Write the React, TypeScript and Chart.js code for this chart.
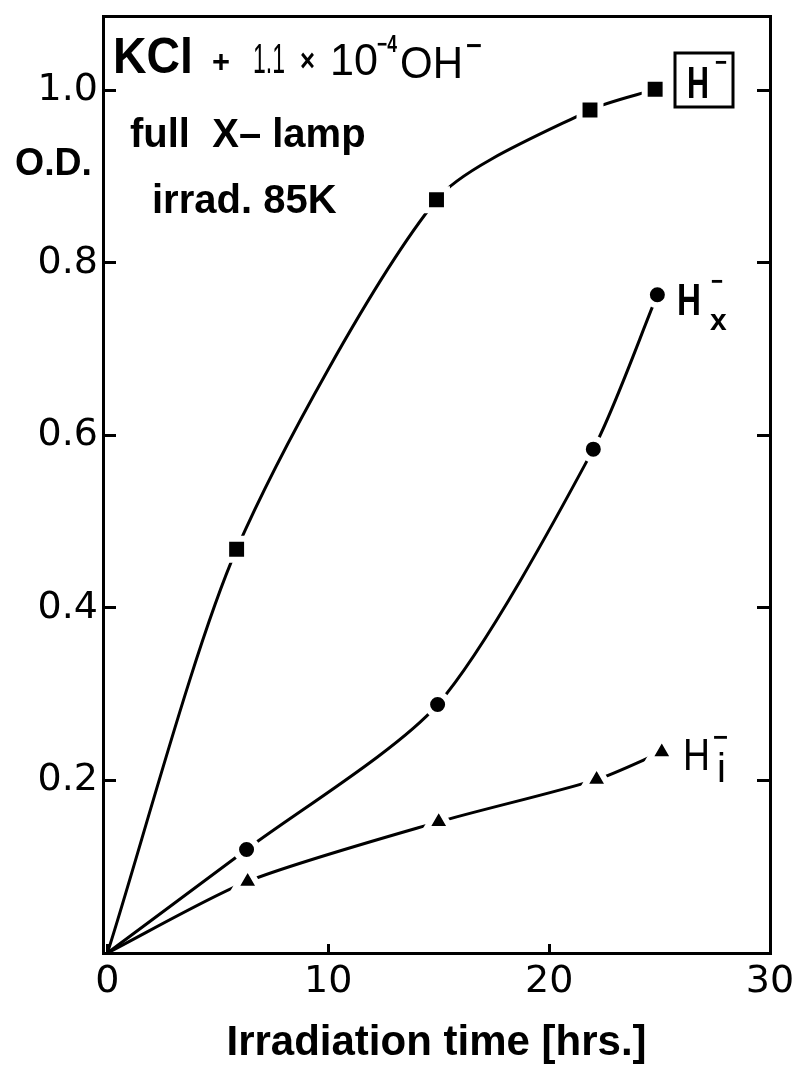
import React, { useEffect, useRef } from "react";
import { Chart, registerables } from "chart.js";

Chart.register(...registerables);

// ---- data ----
const xTickValues = [0, 10, 20, 30];
const yTickValues = [0.2, 0.4, 0.6, 0.8, 1.0];

const hTimes = [0, 5.85, 14.9, 21.85, 24.8];
const hValues = [0, 0.468, 0.873, 0.977, 1.001];

const hxTimes = [0, 6.3, 14.95, 22.0, 24.9];
const hxValues = [0, 0.12, 0.288, 0.584, 0.763];

const hiTimes = [0, 6.35, 15.0, 22.15, 25.1];
const hiValues = [0, 0.083, 0.152, 0.201, 0.233];

const xTitle = "Irradiation time [hrs.]";
const yTitle = "O.D.";

const W = 785;
const H = 1056;

function makeSet(label: string, xs: number[], ys: number[], style: string, r: number) {
  return {
    label,
    data: xs.map((x, i) => ({ x, y: ys[i] })),
    borderColor: "#000",
    borderWidth: 3,
    backgroundColor: "#000",
    pointStyle: style,
    pointRadius: (c: any) => (c.dataIndex === 0 ? 0 : r),
    pointBackgroundColor: "#000",
    pointBorderColor: "#fff",
    pointBorderWidth: 6,
    tension: 0.25,
    fill: false,
    clip: false,
  };
}

function txt(ctx: CanvasRenderingContext2D, s: string, x: number, y: number, font: string, maxW?: number) {
  ctx.font = font;
  if (maxW) ctx.fillText(s, x, y, maxW);
  else ctx.fillText(s, x, y);
}

const zeroPad = (s: any) => {
  s.paddingTop = 0;
  s.paddingBottom = 0;
  s.paddingLeft = 0;
  s.paddingRight = 0;
};

const annotations = {
  id: "annotations",
  afterDraw(chart: any) {
    const ctx: CanvasRenderingContext2D = chart.ctx;
    ctx.save();
    ctx.fillStyle = "#000";
    ctx.strokeStyle = "#000";
    ctx.textAlign = "left";
    ctx.textBaseline = "alphabetic";
    const LS = "'Liberation Sans', sans-serif";
    // title lines
    txt(ctx, "KCl", 105, 65, `bold 50px ${LS}`, 80);
    txt(ctx, "+", 204, 64, `bold 32px ${LS}`, 18);
    txt(ctx, "1.1", 245, 65, `42px ${LS}`, 32);
    txt(ctx, "×", 292, 63, `bold 32px ${LS}`, 15);
    txt(ctx, "10", 322, 67, `44px ${LS}`, 48);
    txt(ctx, "−4", 369, 44, `bold 24px ${LS}`, 20);
    txt(ctx, "OH", 392, 70, `44px ${LS}`, 63);
    txt(ctx, "−", 458, 47, `bold 28px ${LS}`, 16);
    txt(ctx, "full  X– lamp", 122, 139, `bold 40px ${LS}`, 242);
    txt(ctx, "irrad. 85K", 144, 205, `bold 40px ${LS}`, 200);
    // y title
    txt(ctx, yTitle, 7, 167, `bold 38px ${LS}`, 77);
    // H- boxed label
    ctx.lineWidth = 3;
    ctx.strokeRect(667, 45, 58, 54);
    txt(ctx, "H", 679, 90, `bold 44px ${LS}`, 22);
    txt(ctx, "−", 707, 63, `bold 26px ${LS}`, 12);
    // Hx label
    txt(ctx, "H", 669, 307, `bold 44px ${LS}`, 24);
    txt(ctx, "−", 703, 282, `bold 26px ${LS}`, 12);
    txt(ctx, "x", 702, 322, `bold 30px ${LS}`, 20);
    // Hi label
    txt(ctx, "H", 675, 762, `44px ${LS}`, 27);
    txt(ctx, "−", 705, 738, `bold 26px ${LS}`, 15);
    txt(ctx, "i", 709, 774, `40px ${LS}`, 12);
    ctx.restore();
  },
};

export default function App() {
  const ref = useRef<HTMLCanvasElement | null>(null);
  useEffect(() => {
    if (!ref.current) return;
    const tickFont = { family: "'DejaVu Sans', sans-serif", size: 38, lineHeight: 1 };
    const chart = new Chart(ref.current, {
      type: "line",
      data: {
        datasets: [
          makeSet("H-", hTimes, hValues, "rect", 14.8),
          makeSet("Hx-", hxTimes, hxValues, "circle", 10.5),
          makeSet("Hi-", hiTimes, hiValues, "triangle", 14.5),
        ] as any,
      },
      options: {
        responsive: false,
        animation: false,
        devicePixelRatio: 1,
        layout: { autoPadding: false, padding: { top: 8, right: 23, left: 0, bottom: 0 } },
        plugins: {
          legend: { display: false },
          tooltip: { enabled: false },
          title: { display: false },
        },
        scales: {
          x: {
            type: "linear",
            position: "bottom",
            min: -0.2,
            max: 30,
            afterBuildTicks: (s: any) => {
              s.ticks = xTickValues.map((v) => ({ value: v }));
            },
            afterFit: (s: any) => {
              s.height = 111;
              zeroPad(s);
            },
            grid: { drawOnChartArea: false, drawTicks: true, tickLength: -9, lineWidth: 3, color: "#000" },
            border: { display: true, color: "#000", width: 3 },
            ticks: {
              color: "#000",
              font: tickFont,
              padding: 19,
              maxRotation: 0,
              autoSkip: false,
              callback: (v: any) => String(v),
            },
            title: {
              display: true,
              text: xTitle,
              color: "#000",
              font: { family: "'Liberation Sans', sans-serif", size: 42, weight: "bold", lineHeight: 1 },
              padding: 0,
            },
          },
          y: {
            type: "linear",
            position: "left",
            min: 0,
            max: 1.086,
            afterBuildTicks: (s: any) => {
              s.ticks = yTickValues.map((v) => ({ value: v }));
            },
            afterFit: (s: any) => {
              s.width = 95;
              zeroPad(s);
            },
            grid: { drawOnChartArea: false, drawTicks: true, tickLength: -13, lineWidth: 3, color: "#000" },
            border: { display: true, color: "#000", width: 3 },
            ticks: {
              color: "#000",
              font: tickFont,
              padding: 18,
              autoSkip: false,
              callback: (v: any) => Number(v).toFixed(1),
            },
          },
          x2: {
            type: "linear",
            position: "top",
            min: -0.2,
            max: 30,
            afterFit: (s: any) => {
              s.height = 0;
              zeroPad(s);
            },
            grid: { display: false },
            border: { display: true, color: "#000", width: 3 },
            ticks: { display: false },
          },
          y2: {
            type: "linear",
            position: "right",
            min: 0,
            max: 1.086,
            afterBuildTicks: (s: any) => {
              s.ticks = yTickValues.map((v) => ({ value: v }));
            },
            afterFit: (s: any) => {
              s.width = 0;
              zeroPad(s);
            },
            grid: { drawOnChartArea: false, drawTicks: true, tickLength: -13, lineWidth: 3, color: "#000" },
            border: { display: true, color: "#000", width: 3 },
            ticks: { display: false },
          },
        },
      } as any,
      plugins: [annotations],
    });
    return () => chart.destroy();
  }, []);
  return <canvas ref={ref} width={W} height={H} style={{ display: "block", width: W, height: H }} />;
}
